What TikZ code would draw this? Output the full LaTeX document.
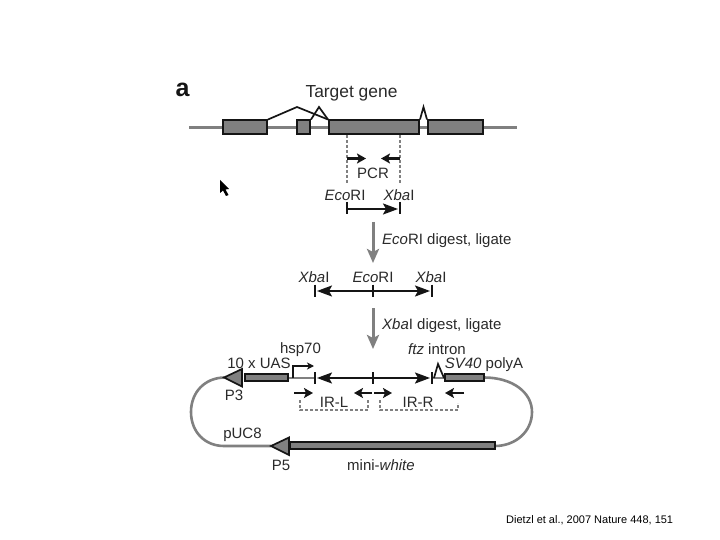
\documentclass[tikz,border=0pt]{standalone}
\usepackage{fontspec}
\setmainfont{Liberation Sans}
\usetikzlibrary{arrows.meta}
\definecolor{gr}{HTML}{808080}
\definecolor{ink}{HTML}{151515}
\definecolor{txt}{HTML}{2A2A2A}
\tikzset{
 exonbox/.style={draw=ink,fill=gr,line width=2pt,inner sep=0pt,minimum height=#1},
 exonbox/.default=14pt,
 backbone/.style={draw=gr,line width=2.6pt},
 ink line/.style={draw=ink,line width=1.7pt},
 primer/.style={draw=ink,line width=2.3pt,-{Stealth[length=9pt,width=10pt,inset=2pt]}},
 tickbar/.style={draw=ink,line width=1.7pt},
 fragment/.style={draw=ink,line width=2.1pt,-{Stealth[length=15pt,width=11pt,inset=3pt]}},
 stepflow/.style={draw=gr,line width=3pt,-{Stealth[length=14pt,width=12pt,inset=3pt]}},
 dashguide/.style={draw=gr,line width=1.2pt,dash pattern=on 3pt off 2pt},
 lab/.style={inner sep=0pt,text=txt,yshift=-1.5pt,font=\fontsize{15}{16}\selectfont},
 promoter/.style={draw=ink,fill=gr,line width=1.7pt,line join=miter},
}
\begin{document}
\begin{tikzpicture}[x=1pt,y=-1pt]
\useasboundingbox (0,0) rectangle (720,540);
\fill[white] (0,0) rectangle (720,540);
% cursor
\fill[black] (220,180) -- (220,193) -- (223,190.5) -- (226,196) -- (228.5,195) -- (225.5,189.5) -- (229,189) -- cycle;
\node[inner sep=0pt,text=ink,font=\fontsize{25}{26}\selectfont\bfseries] (panel) at (182.5,89.5) {a};
\node[lab,font=\fontsize{17.4}{18}\selectfont] (tg) at (351.5,92) {Target gene};
% gene
\coordinate (gl) at (189,127.5); \coordinate (gr1) at (517,127.5);
\draw[backbone] (gl) -- (gr1);
\node[exonbox,minimum width=44pt] (e1) at (245,127.5) {};
\node[exonbox,minimum width=13pt] (e2) at (303.5,127.5) {};
\node[exonbox,minimum width=90pt] (e3) at (374,127.5) {};
\node[exonbox,minimum width=55pt] (e4) at (455.5,127.5) {};
\coordinate (p1) at (297,107); \coordinate (p2) at (319,107); \coordinate (p3) at (423.5,107);
\draw[ink line,line join=miter] (e1.north east) -- (p1) -- (e3.north west);
\draw[ink line,line join=miter] (e2.north east) -- (p2) -- (e3.north west);
\draw[ink line,line join=miter] (e3.north east) -- (p3) -- (e4.north west);
% PCR
\coordinate (d1a) at (347,135); \coordinate (d1b) at (347,184);
\coordinate (d2a) at (400,135); \coordinate (d2b) at (400,184);
\draw[dashguide] (d1a) -- (d1b);
\draw[dashguide] (d2a) -- (d2b);
\coordinate (f1) at (347,158.5); \coordinate (f2) at (366,158.5);
\coordinate (r1) at (400,158.5); \coordinate (r2) at (381,158.5);
\draw[primer] (f1) -- (f2);
\draw[primer] (r1) -- (r2);
\node[lab] (pcr) at (373,172) {PCR};
\node[lab] (eco1) at (345,194) {\textit{Eco}RI};
\node[lab] (xba1) at (399,194) {\textit{Xba}I};
\coordinate (a1) at (347,209); \coordinate (a2) at (400,209);
\draw[tickbar] (347,202) -- (347,214.5);
\draw[tickbar] (400,202) -- (400,214.5);
\draw[fragment] (a1) -- (398,209);
% step 1
\coordinate (s1a) at (373,222); \coordinate (s1b) at (373,263);
\draw[stepflow] (s1a) -- (s1b);
\node[lab,anchor=west] (st1) at (382,239) {\textit{Eco}RI digest, ligate};
% row 2
\node[lab] (x2l) at (314,276) {\textit{Xba}I};
\node[lab] (e2m) at (373,276) {\textit{Eco}RI};
\node[lab] (x2r) at (431,276) {\textit{Xba}I};
\coordinate (b1) at (315,291); \coordinate (bm) at (373,291); \coordinate (b2) at (432,291);
\draw[tickbar] (315,284.5) -- (315,297);
\draw[tickbar] (373,284.5) -- (373,297);
\draw[tickbar] (432,284.5) -- (432,297);
\draw[fragment] (bm) -- (430,291);
\draw[fragment] (bm) -- (317,291);
% step 2
\coordinate (s2a) at (373,308); \coordinate (s2b) at (373,349);
\draw[stepflow] (s2a) -- (s2b);
\node[lab,anchor=west] (st2) at (382,324) {\textit{Xba}I digest, ligate};
% plasmid
\coordinate (t3) at (224,377.5); \coordinate (t5) at (271,446);
\draw[backbone] (t3) .. controls (205,378) and (191,392) .. (191,412) .. controls (191,432) and (205,446) .. (224,446) -- (t5);
\draw[backbone] (484,377.5) .. controls (512,377.5) and (532,392) .. (532,412) .. controls (532,432) and (515,446) .. (495,446);
\draw[backbone] (288,378) -- (315,378);
\draw[backbone] (432,378) -- (445,378);
\node[exonbox=7pt,minimum width=43pt] (uas) at (266.5,377.5) {};
\node[exonbox=7pt,minimum width=39pt] (sv) at (464.5,377.5) {};
\node[exonbox=7pt,minimum width=205pt] (mw) at (392.5,445.5) {};
\draw[promoter] (t3) -- (242,369) -- (242,386.5) -- cycle;
\draw[promoter] (t5) -- (289,437.5) -- (289,455) -- cycle;
% hsp70
\coordinate (h1) at (293,378); \coordinate (h2) at (293,366); \coordinate (h3) at (314,366);
\draw[ink,line width=1.4pt,-{Stealth[length=7pt,width=7pt,inset=2pt]}] (h1) -- (h2) -- (h3);
% insert
\coordinate (c1) at (315,378); \coordinate (cm) at (373,378); \coordinate (c2) at (432,378);
\draw[tickbar] (315,372) -- (315,384);
\draw[tickbar] (373,372) -- (373,384);
\draw[tickbar] (432,372) -- (432,384);
\draw[fragment] (cm) -- (430,378);
\draw[fragment] (cm) -- (317,378);
% ftz intron
\coordinate (z1) at (434,378); \coordinate (z2) at (438,364); \coordinate (z3) at (444,378);
\draw[ink line,line join=miter] (z1) -- (z2) -- (z3);
% IR primers
\coordinate (i1) at (294,393); \coordinate (i2) at (313,393);
\coordinate (i3) at (372,393); \coordinate (i4) at (354,393);
\coordinate (i5) at (374,393); \coordinate (i6) at (392,393);
\coordinate (i7) at (464,393); \coordinate (i8) at (445,393);
\draw[primer] (i1) -- (i2);
\draw[primer] (i3) -- (i4);
\draw[primer] (i5) -- (i6);
\draw[primer] (i7) -- (i8);
\draw[dashguide] (300,400) -- (300,410) -- (368,410) -- (368,400);
\draw[dashguide] (380,400) -- (380,410) -- (458,410) -- (458,403);
% labels
\node[lab] (hsp) at (300.5,348) {hsp70};
\node[lab] (luas) at (259,362) {10 x UAS};
\node[lab] (lp3) at (234,394) {P3};
\node[lab] (lirl) at (334,401) {IR-L};
\node[lab] (lirr) at (418,401) {IR-R};
\node[lab] (lftz) at (437,348) {\textit{ftz} intron};
\node[lab] (lsv) at (484,363) {\textit{SV40} polyA};
\node[lab] (lpuc) at (242.5,433) {pUC8};
\node[lab] (lp5) at (281,464) {P5};
\node[lab] (lmw) at (381,464) {mini-\textit{white}};
\node[inner sep=0pt,anchor=west,text=black,font=\fontsize{11}{13}\selectfont] (cite) at (506,520.5) {Dietzl et al., 2007 Nature 448, 151};
\end{tikzpicture}
\end{document}
